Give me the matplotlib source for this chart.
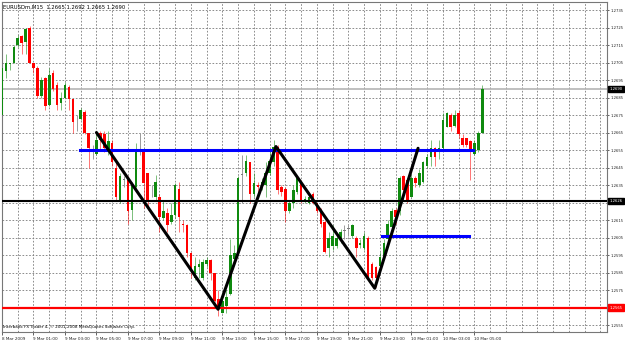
import matplotlib
matplotlib.use('Agg')
import matplotlib.pyplot as plt
import matplotlib.transforms as mtransforms
import numpy as np

# EURUSDm M15 bars, 8 Mar 2009 23:00 onwards (one bar = 15 min)
opens = [1.2675, 1.2700, 1.2704, 1.2705, 1.2715, 1.2720, 1.2717, 1.2725, 1.2705, 1.2702,
         1.2686, 1.2696, 1.2681, 1.2699, 1.2692, 1.2682, 1.2685, 1.2691, 1.2684, 1.2672,
         1.2673, 1.2677, 1.2665, 1.2656, 1.2653, 1.2665, 1.2664, 1.2655, 1.2659, 1.2645,
         1.2626, 1.2638, 1.2638, 1.2621, 1.2634, 1.2655, 1.2654, 1.2642, 1.2632, 1.2628,
         1.2628, 1.2616, 1.2619, 1.2614, 1.2618, 1.2633, 1.2613, 1.2612, 1.2596, 1.2582,
         1.2588, 1.2582, 1.2590, 1.2592, 1.2585, 1.2570, 1.2562, 1.2566, 1.2573, 1.2593,
         1.2597, 1.2641, 1.2642, 1.2648, 1.2630, 1.2635, 1.2634, 1.2635, 1.2642, 1.2648,
         1.2657, 1.2634, 1.2633, 1.2620, 1.2625, 1.2631, 1.2637, 1.2626, 1.2625, 1.2630,
         1.2625, 1.2621, 1.2614, 1.2599, 1.2600, 1.2600, 1.2604, 1.2609, 1.2610, 1.2606,
         1.2605, 1.2601, 1.2599, 1.2605, 1.2590, 1.2588, 1.2589, 1.2593, 1.2604, 1.2611,
         1.2621, 1.2620, 1.2640, 1.2638, 1.2628, 1.2639, 1.2635, 1.2637, 1.2646, 1.2651,
         1.2656, 1.2654, 1.2656, 1.2668, 1.2675, 1.2669, 1.2676, 1.2662, 1.2662, 1.2660,
         1.2653, 1.2655, 1.2665]
highs = [1.2703, 1.2710, 1.2705, 1.2715, 1.2721, 1.2721, 1.2725, 1.2726, 1.2705, 1.2703,
         1.2697, 1.2697, 1.2702, 1.2701, 1.2694, 1.2688, 1.2694, 1.2692, 1.2684, 1.2675,
         1.2679, 1.2678, 1.2665, 1.2658, 1.2664, 1.2666, 1.2666, 1.2666, 1.2661, 1.2648,
         1.2642, 1.2640, 1.2640, 1.2637, 1.2659, 1.2665, 1.2655, 1.2642, 1.2635, 1.2641,
         1.2630, 1.2626, 1.2622, 1.2625, 1.2636, 1.2637, 1.2615, 1.2613, 1.2597, 1.2594,
         1.2593, 1.2593, 1.2594, 1.2593, 1.2585, 1.2575, 1.2571, 1.2575, 1.2604, 1.2601,
         1.2640, 1.2652, 1.2652, 1.2648, 1.2642, 1.2637, 1.2639, 1.2648, 1.2655, 1.2661,
         1.2658, 1.2635, 1.2634, 1.2626, 1.2635, 1.2640, 1.2638, 1.2629, 1.2629, 1.2631,
         1.2625, 1.2622, 1.2615, 1.2608, 1.2612, 1.2606, 1.2610, 1.2612, 1.2612, 1.2613,
         1.2606, 1.2604, 1.2608, 1.2606, 1.2591, 1.2589, 1.2597, 1.2604, 1.2615, 1.2622,
         1.2622, 1.2640, 1.2641, 1.2639, 1.2641, 1.2640, 1.2644, 1.2649, 1.2653, 1.2661,
         1.2657, 1.2661, 1.2676, 1.2677, 1.2676, 1.2678, 1.2678, 1.2664, 1.2662, 1.2661,
         1.2661, 1.2666, 1.2692]
lows = [1.2674, 1.2696, 1.2701, 1.2705, 1.2714, 1.2710, 1.2710, 1.2705, 1.2699, 1.2685,
        1.2685, 1.2678, 1.2680, 1.2689, 1.2678, 1.2678, 1.2685, 1.2678, 1.2665, 1.2666,
        1.2672, 1.2664, 1.2645, 1.2650, 1.2652, 1.2655, 1.2654, 1.2652, 1.2646, 1.2626,
        1.2625, 1.2634, 1.2613, 1.2615, 1.2632, 1.2652, 1.2622, 1.2621, 1.2628, 1.2626,
        1.2608, 1.2615, 1.2608, 1.2613, 1.2616, 1.2608, 1.2608, 1.2594, 1.2582, 1.2581,
        1.2582, 1.2581, 1.2588, 1.2581, 1.2568, 1.2560, 1.2562, 1.2562, 1.2572, 1.2591,
        1.2596, 1.2625, 1.2640, 1.2625, 1.2628, 1.2629, 1.2632, 1.2628, 1.2641, 1.2646,
        1.2630, 1.2629, 1.2614, 1.2619, 1.2622, 1.2630, 1.2625, 1.2625, 1.2624, 1.2624,
        1.2619, 1.2611, 1.2596, 1.2594, 1.2598, 1.2599, 1.2602, 1.2604, 1.2606, 1.2605,
        1.2594, 1.2599, 1.2598, 1.2581, 1.2581, 1.2577, 1.2588, 1.2592, 1.2602, 1.2610,
        1.2613, 1.2618, 1.2626, 1.2625, 1.2628, 1.2634, 1.2634, 1.2636, 1.2645, 1.2646,
        1.2646, 1.2650, 1.2655, 1.2668, 1.2666, 1.2668, 1.2662, 1.2657, 1.2657, 1.2638,
        1.2652, 1.2654, 1.2665]
closes = [1.2702, 1.2705, 1.2705, 1.2714, 1.2719, 1.2716, 1.2724, 1.2705, 1.2702, 1.2686,
          1.2695, 1.2680, 1.2698, 1.2690, 1.2681, 1.2685, 1.2692, 1.2684, 1.2671, 1.2672,
          1.2678, 1.2665, 1.2656, 1.2656, 1.2661, 1.2661, 1.2656, 1.2660, 1.2648, 1.2628,
          1.2640, 1.2638, 1.2620, 1.2636, 1.2654, 1.2655, 1.2636, 1.2626, 1.2632, 1.2637,
          1.2617, 1.2620, 1.2612, 1.2618, 1.2635, 1.2617, 1.2612, 1.2596, 1.2586, 1.2589,
          1.2590, 1.2591, 1.2592, 1.2585, 1.2569, 1.2564, 1.2569, 1.2571, 1.2595, 1.2596,
          1.2639, 1.2641, 1.2649, 1.2630, 1.2636, 1.2634, 1.2637, 1.2642, 1.2649, 1.2657,
          1.2632, 1.2631, 1.2620, 1.2625, 1.2632, 1.2639, 1.2626, 1.2627, 1.2628, 1.2625,
          1.2620, 1.2613, 1.2597, 1.2605, 1.2606, 1.2605, 1.2608, 1.2609, 1.2610, 1.2612,
          1.2599, 1.2602, 1.2606, 1.2582, 1.2582, 1.2582, 1.2594, 1.2602, 1.2613, 1.2620,
          1.2617, 1.2639, 1.2632, 1.2626, 1.2639, 1.2636, 1.2642, 1.2648, 1.2651, 1.2656,
          1.2651, 1.2656, 1.2672, 1.2676, 1.2668, 1.2675, 1.2664, 1.2658, 1.2658, 1.2654,
          1.2659, 1.2665, 1.2690]

# hand drawn objects (x in bars from the first bar)
zigzag_x = [24.0, 54.9, 69.6, 94.7, 105.7]
zigzag_y = [1.2665, 1.2564, 1.2657, 1.2576, 1.2656]
blue1_x = [19.7, 119.7]
blue1_y = 1.2655
blue2_x = [96.6, 118.7]
blue2_y = 1.2606
black_level = 1.2626
red_level = 1.2565
bid_level = 1.2690

price_ticks = [1.2555 + 0.001 * k for k in range(19)]
time_pos = [0] + list(range(8, 121, 8))
time_labels = ['8 Mar 2009', '9 Mar 01:00', '9 Mar 03:00', '9 Mar 05:00', '9 Mar 07:00',
               '9 Mar 09:00', '9 Mar 11:00', '9 Mar 13:00', '9 Mar 15:00', '9 Mar 17:00',
               '9 Mar 19:00', '9 Mar 21:00', '9 Mar 23:00', '10 Mar 01:00', '10 Mar 03:00',
               '10 Mar 05:00']


def main():
    fig = plt.figure(figsize=(6.25, 3.42), dpi=100)
    ax = fig.add_axes([2 / 625, 10 / 342, 605 / 625, 330 / 342])

    o = np.array(opens)
    h = np.array(highs)
    l = np.array(lows)
    c = np.array(closes)
    x = np.arange(len(o))

    up = c > o
    down = c < o
    doji = c == o
    green = '#0f8a0f'
    red = '#ff0000'

    # grid
    for p in price_ticks:
        ax.axhline(p, color='#7a7a7a', lw=0.6, ls=(0, (2, 2)), zorder=0)
    for k in range(4, 154, 4):
        ax.axvline(k, color='#7a7a7a', lw=0.6, ls=(0, (2, 2)), zorder=0)

    # candles
    ax.vlines(x[up], l[up], h[up], color=green, lw=0.7, alpha=0.55, zorder=2)
    ax.vlines(x[down], l[down], h[down], color=red, lw=0.7, alpha=0.55, zorder=2)
    ax.vlines(x[doji], l[doji], h[doji], color='#9a9a9a', lw=0.7, zorder=2)
    ax.bar(x[up], (c - o)[up], bottom=o[up], width=0.65, color=green, zorder=3)
    ax.bar(x[down], (o - c)[down], bottom=c[down], width=0.65, color=red, zorder=3)
    ax.bar(x[doji], 0.00003, bottom=o[doji], width=0.65, color='#7a7a7a', zorder=3)

    # levels and objects
    ax.axhline(bid_level, color='#b4b4b4', lw=1.2, zorder=1)
    ax.axhline(black_level, color='black', lw=1.5, zorder=4)
    ax.axhline(red_level, color='red', lw=1.6, zorder=4)
    ax.plot(blue1_x, [blue1_y, blue1_y], color='#0000ff', lw=2.2, zorder=5)
    ax.plot(blue2_x, [blue2_y, blue2_y], color='#0000ff', lw=2.2, zorder=5)
    ax.plot(zigzag_x, zigzag_y, color='black', lw=2.2, zorder=6, solid_capstyle='round')

    ax.set_xlim(0.18, 153.7)
    ax.set_ylim(1.2551, 1.27396)

    # price scale; the ticks under the level boxes stay blank
    covered = [round(black_level, 3), round(red_level, 3)]
    ylabels = []
    for p in price_ticks:
        if any(abs(p - v) < 0.0003 for v in [black_level, red_level]):
            ylabels.append('')
        else:
            ylabels.append('%.4f' % p)
    ax.yaxis.tick_right()
    ax.set_yticks(price_ticks)
    ax.set_yticklabels(ylabels)
    ax.tick_params(axis='y', length=1.5, width=0.5, pad=1, labelsize=2.7, colors='#222222')
    ax.set_xticks(time_pos)
    ax.set_xticklabels(time_labels, ha='left')
    ax.tick_params(axis='x', length=2, width=0.5, pad=1.5, labelsize=3.0, colors='#222222')

    for s in ax.spines.values():
        s.set_color('#777777')
        s.set_linewidth(0.8)

    # price boxes on the right axis
    trans = mtransforms.blended_transform_factory(ax.transAxes, ax.transData)
    for val, bg in [(bid_level, 'black'), (black_level, 'black'), (red_level, 'red')]:
        ax.text(1.004, val, '%.4f' % val, transform=trans, fontsize=2.7, color='white',
                va='center', ha='left', zorder=10, clip_on=False,
                bbox=dict(boxstyle='square,pad=0.3', fc=bg, ec=bg))

    ax.text(0.002, 0.993, 'EURUSDm,M15  1.2665 1.2692 1.2665 1.2690', transform=ax.transAxes,
            fontsize=3.8, va='top', ha='left', color='black')
    ax.text(0.002, 0.008, 'Interbank FX Trader 4, \u00a9 2001-2008 MetaQuotes Software Corp.',
            transform=ax.transAxes, fontsize=3.0, va='bottom', ha='left', color='black')

    fig.savefig('out.png', dpi=100)


if __name__ == '__main__':
    main()
